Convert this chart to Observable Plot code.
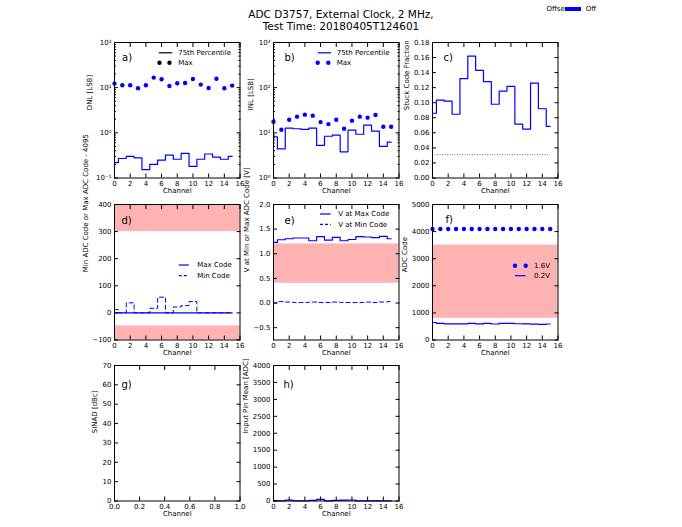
<!DOCTYPE html>
<html><head><meta charset="utf-8">
<script src="https://cdn.jsdelivr.net/npm/d3@7"></script>
<script src="https://cdn.jsdelivr.net/npm/@observablehq/plot@0.6"></script>
<style>
body{margin:0;background:#fff;}
#fig{position:relative;width:682px;height:527px;font-family:"DejaVu Sans",sans-serif;overflow:hidden;background:#fff}
.panel{position:absolute}
#title{position:absolute;left:0;width:682px;top:9px;text-align:center;font-size:10.5px;line-height:11.5px;color:#000}
#toplegend{position:absolute;left:546.5px;top:4px;font-size:7px;line-height:10px;white-space:nowrap;color:#000}
#toplegend .sw{display:inline-block;width:16px;height:4px;background:#0000ff;vertical-align:middle;margin:0 5px 0 0}
</style></head><body><div id="fig">
<div id="title">ADC D3757, External Clock, 2 MHz,<br>Test Time: 20180405T124601</div>
<div id="toplegend">Offse<span class="sw"></span>Off</div>
</div>
<script>
// ---------- data ----------
const channels = [0,1,2,3,4,5,6,7,8,9,10,11,12,13,14,15];
const dnlMax = [12.3,11.3,11.3,9.7,11.3,16.7,15.3,10.9,12.5,12.7,15.6,11.7,9.8,15.8,9.7,11.1];
const dnlP75 = [0.22,0.27,0.30,0.28,0.153,0.20,0.25,0.32,0.26,0.35,0.18,0.26,0.34,0.29,0.26,0.30];
const inlMax = [17.6,11.7,19.5,22.8,25.3,24.0,17.3,15.6,19.5,12.3,18.5,22.8,21.7,24.9,13.6,13.6];
const inlP75 = [8.1,4.4,12.7,12.3,11.9,12.7,5.3,8.4,8.9,3.8,11.5,9.3,14.8,10.9,5.0,6.2];
const stuckFrac = [0.086,0.1034,0.102,0.0847,0.132,0.162,0.143,0.128,0.098,0.1154,0.1217,0.0717,0.065,0.126,0.092,0.0686];
const stuckThreshold = 0.031;
const maxCodeOffset = [0,0,0,0,0,0,0,0,0,0,0,0,0,0,0,0];
const minCode = [12,0,37,0,0,17,58,0,22,27,42,0,0,0,0,0];
const dBands = [{lo:300, hi:400}, {lo:-100, hi:-48}];
const vMaxCode = [1.23,1.285,1.305,1.32,1.32,1.264,1.346,1.278,1.332,1.264,1.29,1.346,1.34,1.326,1.353,1.305];
const vMinCode = [0.0,0.03,0.02,0.01,0.01,0.02,0.01,0.01,0.02,0.01,0.01,0.01,0.02,0.01,0.02,0.03];
const eBands = [{lo:0.4, hi:1.2}];
const code16V = [4095,4095,4095,4095,4095,4095,4095,4095,4095,4095,4095,4095,4095,4095,4095,4095];
const code02V = [645,610,595,595,595,615,595,615,590,615,610,600,595,585,580,590];
const fBands = [{lo:800, hi:3500}];
const pinMean = [10,3,25,3,3,20,50,3,20,25,30,3,3,3,3,3];

const chTicks = [0,2,4,6,8,10,12,14,16];
const dnlTicks = [0.1,1,10,100];
const dnlMinor = [0.2,0.3,0.4,0.5,0.6,0.7,0.8,0.9,2,3,4,5,6,7,8,9,20,30,40,50,60,70,80,90];
const inlTicks = [1,10,100,1000];
const inlMinor = [2,3,4,5,6,7,8,9,20,30,40,50,60,70,80,90,200,300,400,500,600,700,800,900];
const stuckTicks = [0,0.02,0.04,0.06,0.08,0.10,0.12,0.14,0.16,0.18];
const dTicks = [-100,0,100,200,300,400];
const eTicks = [-0.5,0,0.5,1.0,1.5,2.0];
const fTicks = [0,1000,2000,3000,4000,5000];
const gXTicks = [0,0.2,0.4,0.6,0.8,1.0];
const gYTicks = [0,10,20,30,40,50,60,70];
const hTicks = [0,500,1000,1500,2000,2500,3000,3500,4000];

const rows = channels.map((ch,i)=>({ch, dnlMax:dnlMax[i], dnlP75:dnlP75[i], inlMax:inlMax[i], inlP75:inlP75[i],
  stuck:stuckFrac[i], maxOff:maxCodeOffset[i], minCode:minCode[i], vMax:vMaxCode[i], vMin:vMinCode[i],
  c16:code16V[i], c02:code02V[i], pin:pinMean[i]}));

// ---------- layout ----------
const BLUE = "#0000ff", BAND = "#ff0000";
const ML=45, MR=10, MT=10, MB=30;
const colsX=[113.5,273,432], rowsY=[41.5,204,365], PW=125.5, PH=135.5;
const sup = {"-1":"10\u207B\u00B9","0":"10\u2070","1":"10\u00B9","2":"10\u00B2","3":"10\u00B3"};
const logFmt = d => sup[String(Math.round(Math.log10(d)))];
const noFmt = () => "";
const FIG = document.getElementById("fig");

function panel(o){
  const left = colsX[o.col], top = rowsY[o.row];
  const minor = o.yMinor ? [
    Plot.axisY({anchor:"left", ticks:o.yMinor, tickFormat:noFmt, tickSize:-2, label:null}),
    Plot.axisY({anchor:"right", ticks:o.yMinor, tickFormat:noFmt, tickSize:-2, label:null})] : [];
  const svg = Plot.plot({
    width: ML+PW+MR, height: MT+PH+MB,
    marginLeft: ML, marginRight: MR, marginTop: MT, marginBottom: MB,
    style: {background:"transparent", overflow:"visible", fontFamily:"DejaVu Sans, sans-serif", fontSize:"7px", color:"black"},
    x: {domain: o.xDomain},
    y: {type: o.yType || "linear", domain: o.yDomain},
    marks: [
      ...(o.marks || []),
      Plot.frame({stroke:"black", strokeWidth:1}),
      Plot.axisX({anchor:"bottom", ticks:o.xTicks, tickFormat:o.xFmt, tickSize:-4, tickPadding:7, label:null}),
      Plot.axisX({anchor:"top", ticks:o.xTicks, tickFormat:noFmt, tickSize:-4, label:null}),
      Plot.axisY({anchor:"left", ticks:o.yTicks, tickFormat:o.yFmt, tickSize:-4, tickPadding:7, label:null}),
      Plot.axisY({anchor:"right", ticks:o.yTicks, tickFormat:noFmt, tickSize:-4, label:null}),
      ...minor,
      Plot.text(["Channel"], {frameAnchor:"bottom", dy:15, fontSize:7}),
      Plot.text([o.ylabel], {frameAnchor:"left", rotate:-90, dx:o.ylabelDx, fontSize:7}),
      Plot.text([o.letter], {frameAnchor:"top-left", dx:o.letterDx, dy:o.letterDy, textAnchor:"start", fontSize:10})
    ]
  });
  const div = document.createElement("div");
  div.className = "panel";
  div.style.left = (left-ML)+"px"; div.style.top = (top-MT)+"px";
  div.appendChild(svg);
  FIG.appendChild(div);
  if (o.legend) {
    const g = d3.select(svg).append("g").attr("font-family","DejaVu Sans, sans-serif").attr("font-size",7).attr("text-anchor","start");
    const X = v => v-left+ML, Y = v => v-top+MT;
    for (const it of o.legend) {
      if (it.kind === "line") {
        g.append("line").attr("x1",X(it.x0)).attr("x2",X(it.x1)).attr("y1",Y(it.y)).attr("y2",Y(it.y))
          .attr("stroke",it.color).attr("stroke-width",1.2).attr("stroke-dasharray",it.dash||null);
      } else {
        for (const cx of [it.x0,it.x1]) g.append("circle").attr("cx",X(cx)).attr("cy",Y(it.y)).attr("r",2.2).attr("fill",it.color);
      }
      g.append("text").attr("x",X(it.tx)).attr("y",Y(it.y)).attr("dy","0.35em").attr("text-anchor","start").attr("fill","black").text(it.label);
    }
  }
}

const f2 = d3.format(".2f"), f1 = d3.format(".1f"), f0 = d3.format("d");

panel({col:0,row:0, xDomain:[0,16], xTicks:chTicks, xFmt:f0, yType:"log", yDomain:[0.1,100], yTicks:dnlTicks, yFmt:logFmt, yMinor:dnlMinor,
  ylabel:"DNL [LSB]", ylabelDx:-24.5, letter:"a)", letterDx:7.5, letterDy:11,
  marks:[
    Plot.line(rows,{x:"ch", y:"dnlP75", curve:"step", stroke:BLUE, strokeWidth:1.2}),
    Plot.dot(rows,{x:"ch", y:"dnlMax", r:2.2, fill:BLUE})
  ],
  legend:[
    {kind:"line", x0:158.3, x1:171.7, y:52.3, tx:177.7, color:"black", label:"75th Percentile"},
    {kind:"dots", x0:159, x1:169, y:62.3, tx:177.7, color:"black", label:"Max"}
  ]});

panel({col:1,row:0, xDomain:[0,16], xTicks:chTicks, xFmt:f0, yType:"log", yDomain:[1,1000], yTicks:inlTicks, yFmt:logFmt, yMinor:inlMinor,
  ylabel:"INL [LSB]", ylabelDx:-23, letter:"b)", letterDx:11, letterDy:11,
  marks:[
    Plot.line(rows,{x:"ch", y:"inlP75", curve:"step", stroke:BLUE, strokeWidth:1.2}),
    Plot.dot(rows,{x:"ch", y:"inlMax", r:2.2, fill:BLUE})
  ],
  legend:[
    {kind:"line", x0:317.7, x1:331, y:52.3, tx:336.7, color:BLUE, label:"75th Percentile"},
    {kind:"dots", x0:317.7, x1:328.3, y:62.3, tx:336.7, color:BLUE, label:"Max"}
  ]});

panel({col:2,row:0, xDomain:[0,16], xTicks:chTicks, xFmt:f0, yDomain:[0,0.18], yTicks:stuckTicks, yFmt:f2,
  ylabel:"Stuck Code Fraction", ylabelDx:-26, letter:"c)", letterDx:11, letterDy:11,
  marks:[
    Plot.ruleY([stuckThreshold],{x1:channels[0], x2:channels[channels.length-1], stroke:"#777", strokeDasharray:"1,1.5"}),
    Plot.line(rows,{x:"ch", y:"stuck", curve:"step", stroke:BLUE, strokeWidth:1.2})
  ]});

panel({col:0,row:1, xDomain:[0,16], xTicks:chTicks, xFmt:f0, yDomain:[-100,400], yTicks:dTicks, yFmt:f0,
  ylabel:"Min ADC Code or Max ADC Code - 4095", ylabelDx:-29, letter:"d)", letterDx:7, letterDy:12.7,
  marks:[
    Plot.rect(dBands,{x1:0, x2:16, y1:"lo", y2:"hi", fill:BAND, fillOpacity:0.3}),
    Plot.line(rows,{x:"ch", y:"maxOff", curve:"step", stroke:BLUE, strokeWidth:1.2}),
    Plot.line(rows,{x:"ch", y:"minCode", curve:"step", stroke:BLUE, strokeWidth:1, strokeDasharray:"4,3"})
  ],
  legend:[
    {kind:"line", x0:178.3, x1:188.3, y:265, tx:196.7, color:BLUE, label:"Max Code"},
    {kind:"line", x0:178.3, x1:188.3, y:275.7, tx:196.7, color:BLUE, dash:"3,2", label:"Min Code"}
  ]});

panel({col:1,row:1, xDomain:[0,16], xTicks:chTicks, xFmt:f0, yDomain:[-0.75,2], yTicks:eTicks, yFmt:f1,
  ylabel:"V at Min or Max ADC Code [V]", ylabelDx:-27, letter:"e)", letterDx:11, letterDy:12.7,
  marks:[
    Plot.rect(eBands,{x1:0, x2:16, y1:"lo", y2:"hi", fill:BAND, fillOpacity:0.3}),
    Plot.line(rows,{x:"ch", y:"vMax", curve:"step", stroke:BLUE, strokeWidth:1.2}),
    Plot.line(rows,{x:"ch", y:"vMin", curve:"step", stroke:BLUE, strokeWidth:1, strokeDasharray:"4,3"})
  ],
  legend:[
    {kind:"line", x0:320, x1:330.7, y:214, tx:338.3, color:BLUE, label:"V at Max Code"},
    {kind:"line", x0:320, x1:330.7, y:224.3, tx:338.3, color:BLUE, dash:"3,2", label:"V at Min Code"}
  ]});

panel({col:2,row:1, xDomain:[0,16], xTicks:chTicks, xFmt:f0, yDomain:[0,5000], yTicks:fTicks, yFmt:f0,
  ylabel:"ADC Code", ylabelDx:-28, letter:"f)", letterDx:13, letterDy:11,
  marks:[
    Plot.rect(fBands,{x1:0, x2:16, y1:"lo", y2:"hi", fill:BAND, fillOpacity:0.3}),
    Plot.dot(rows,{x:"ch", y:"c16", r:2.2, fill:BLUE}),
    Plot.line(rows,{x:"ch", y:"c02", curve:"step", stroke:BLUE, strokeWidth:1.2})
  ],
  legend:[
    {kind:"dots", x0:515, x1:525.7, y:265.7, tx:534, color:BLUE, label:"1.6V"},
    {kind:"line", x0:515, x1:525.7, y:275.7, tx:534, color:BLUE, label:"0.2V"}
  ]});

panel({col:0,row:2, xDomain:[0,1], xTicks:gXTicks, xFmt:f1, yDomain:[0,70], yTicks:gYTicks, yFmt:f0,
  ylabel:"SINAD [dBc]", ylabelDx:-20, letter:"g)", letterDx:7, letterDy:15.7, marks:[]});

panel({col:1,row:2, xDomain:[0,16], xTicks:chTicks, xFmt:f0, yDomain:[0,4000], yTicks:hTicks, yFmt:f0,
  ylabel:"Input Pin Mean [ADC]", ylabelDx:-28, letter:"h)", letterDx:10, letterDy:15.7,
  marks:[
    Plot.line(rows,{x:"ch", y:"pin", curve:"step", stroke:BLUE, strokeWidth:1.2})
  ]});
</script></body></html>
